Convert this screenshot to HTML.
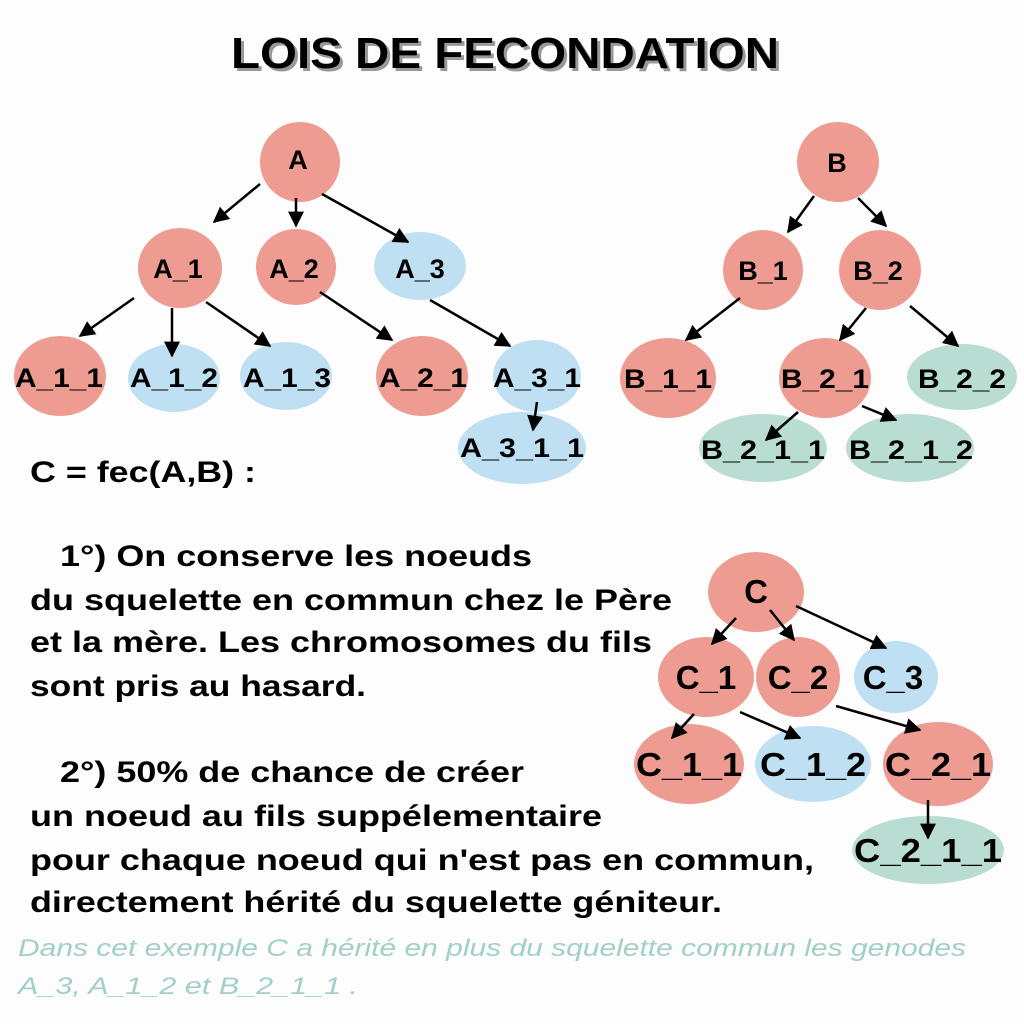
<!DOCTYPE html>
<html><head><meta charset="utf-8"><style>
html,body{margin:0;padding:0;background:#fdfdfd;}
svg{display:block}
text{font-family:"Liberation Sans",sans-serif;}
</style></head><body>
<svg width="1024" height="1024" viewBox="0 0 1024 1024" xmlns="http://www.w3.org/2000/svg">
<defs>
<marker id="ar" viewBox="0 0 10 10" refX="9" refY="5" markerWidth="16" markerHeight="16" markerUnits="userSpaceOnUse" orient="auto">
<path d="M0,0 L10,5 L0,10 z" fill="#000"/></marker>
</defs>
<rect width="1024" height="1024" fill="#fdfdfd"/>
<text x="508" y="71" font-size="44" font-weight="bold" text-anchor="middle" fill="#999" textLength="548" lengthAdjust="spacingAndGlyphs">LOIS DE FECONDATION</text>
<text x="505" y="68" font-size="44" font-weight="bold" text-anchor="middle" fill="#000" textLength="548" lengthAdjust="spacingAndGlyphs">LOIS DE FECONDATION</text>

<g>
<ellipse cx="300" cy="162" rx="40" ry="40" fill="#ee9c92"/>
<ellipse cx="180" cy="268" rx="42" ry="40" fill="#ee9c92"/>
<ellipse cx="296" cy="267" rx="40" ry="38" fill="#ee9c92"/>
<ellipse cx="420" cy="266" rx="46" ry="34" fill="#bfe0f2"/>
<ellipse cx="60" cy="376" rx="46" ry="40" fill="#ee9c92"/>
<ellipse cx="174" cy="378" rx="46" ry="34" fill="#bfe0f2"/>
<ellipse cx="286" cy="376" rx="46" ry="34" fill="#bfe0f2"/>
<ellipse cx="422" cy="376" rx="46" ry="40" fill="#ee9c92"/>
<ellipse cx="537" cy="376" rx="44" ry="36" fill="#bfe0f2"/>
<ellipse cx="522" cy="448" rx="64" ry="36" fill="#bfe0f2"/>
<ellipse cx="838" cy="162" rx="41" ry="40" fill="#ee9c92"/>
<ellipse cx="763" cy="270" rx="40" ry="40" fill="#ee9c92"/>
<ellipse cx="880" cy="270" rx="41" ry="40" fill="#ee9c92"/>
<ellipse cx="668" cy="378" rx="48" ry="40" fill="#ee9c92"/>
<ellipse cx="825" cy="378" rx="46" ry="40" fill="#ee9c92"/>
<ellipse cx="962" cy="377" rx="55" ry="33" fill="#b9ddd3"/>
<ellipse cx="763" cy="448" rx="64" ry="34" fill="#b9ddd3"/>
<ellipse cx="910" cy="448" rx="64" ry="34" fill="#b9ddd3"/>
<ellipse cx="756" cy="592" rx="48" ry="40" fill="#ee9c92"/>
<ellipse cx="706" cy="677" rx="48" ry="40" fill="#ee9c92"/>
<ellipse cx="798" cy="677" rx="42" ry="40" fill="#ee9c92"/>
<ellipse cx="896" cy="677" rx="42" ry="36" fill="#bfe0f2"/>
<ellipse cx="689" cy="764" rx="55" ry="40" fill="#ee9c92"/>
<ellipse cx="813" cy="764" rx="58" ry="38" fill="#bfe0f2"/>
<ellipse cx="938" cy="764" rx="55" ry="42" fill="#ee9c92"/>
<ellipse cx="928" cy="850" rx="76" ry="34" fill="#b9ddd3"/>
</g>

<g stroke="#000" stroke-width="2.5" marker-end="url(#ar)">
<line x1="260" y1="184" x2="214" y2="222"/>
<line x1="296" y1="198" x2="296" y2="226"/>
<line x1="322" y1="194" x2="408" y2="242"/>
<line x1="134" y1="298" x2="80" y2="336"/>
<line x1="172" y1="308" x2="172" y2="356"/>
<line x1="206" y1="302" x2="270" y2="346"/>
<line x1="320" y1="292" x2="392" y2="340"/>
<line x1="430" y1="300" x2="510" y2="346"/>
<line x1="537" y1="402" x2="533" y2="430"/>
<line x1="814" y1="196" x2="788" y2="232"/>
<line x1="858" y1="198" x2="886" y2="226"/>
<line x1="740" y1="298" x2="686" y2="340"/>
<line x1="866" y1="308" x2="840" y2="340"/>
<line x1="910" y1="306" x2="958" y2="346"/>
<line x1="798" y1="412" x2="766" y2="440"/>
<line x1="862" y1="406" x2="896" y2="420"/>
<line x1="736" y1="618" x2="712" y2="644"/>
<line x1="770" y1="610" x2="794" y2="640"/>
<line x1="796" y1="606" x2="886" y2="648"/>
<line x1="694" y1="714" x2="672" y2="738"/>
<line x1="740" y1="712" x2="800" y2="738"/>
<line x1="836" y1="706" x2="920" y2="730"/>
<line x1="928" y1="800" x2="928" y2="838"/>
</g>

<g font-size="27" font-weight="bold" text-anchor="middle" fill="#000">
<text x="298" y="169">A</text>
<text x="178" y="278">A_1</text>
<text x="294" y="278">A_2</text>
<text x="420" y="278">A_3</text>
<text x="59" y="387" textLength="88" lengthAdjust="spacingAndGlyphs">A_1_1</text>
<text x="174" y="387" textLength="88" lengthAdjust="spacingAndGlyphs">A_1_2</text>
<text x="287" y="387" textLength="88" lengthAdjust="spacingAndGlyphs">A_1_3</text>
<text x="423" y="387" textLength="88" lengthAdjust="spacingAndGlyphs">A_2_1</text>
<text x="537" y="387" textLength="88" lengthAdjust="spacingAndGlyphs">A_3_1</text>
<text x="522" y="457" textLength="124" lengthAdjust="spacingAndGlyphs">A_3_1_1</text>
<text x="837" y="172">B</text>
<text x="763" y="280">B_1</text>
<text x="878" y="280">B_2</text>
<text x="668" y="388" textLength="88" lengthAdjust="spacingAndGlyphs">B_1_1</text>
<text x="825" y="388" textLength="88" lengthAdjust="spacingAndGlyphs">B_2_1</text>
<text x="962" y="388" textLength="88" lengthAdjust="spacingAndGlyphs">B_2_2</text>
<text x="763" y="459" textLength="124" lengthAdjust="spacingAndGlyphs">B_2_1_1</text>
<text x="911" y="459" textLength="124" lengthAdjust="spacingAndGlyphs">B_2_1_2</text>
</g>
<g font-size="33" font-weight="bold" text-anchor="middle" fill="#000">
<text x="756" y="603">C</text>
<text x="706" y="689">C_1</text>
<text x="798" y="689">C_2</text>
<text x="893" y="689">C_3</text>
<text x="689" y="776" textLength="106" lengthAdjust="spacingAndGlyphs">C_1_1</text>
<text x="813" y="776" textLength="106" lengthAdjust="spacingAndGlyphs">C_1_2</text>
<text x="938" y="776" textLength="106" lengthAdjust="spacingAndGlyphs">C_2_1</text>
<text x="928" y="862" textLength="148" lengthAdjust="spacingAndGlyphs">C_2_1_1</text>
</g>

<g font-size="30" font-weight="bold" fill="#000" lengthAdjust="spacingAndGlyphs">
<text x="30" y="482" textLength="226" lengthAdjust="spacingAndGlyphs">C = fec(A,B) :</text>
<text x="60" y="566" textLength="472" lengthAdjust="spacingAndGlyphs">1°) On conserve les noeuds</text>
<text x="30" y="610" textLength="642" lengthAdjust="spacingAndGlyphs">du squelette en commun chez le Père</text>
<text x="30" y="652" textLength="622" lengthAdjust="spacingAndGlyphs">et la mère. Les chromosomes du fils</text>
<text x="30" y="696" textLength="336" lengthAdjust="spacingAndGlyphs">sont pris au hasard.</text>
<text x="60" y="782" textLength="464" lengthAdjust="spacingAndGlyphs">2°) 50% de chance de créer</text>
<text x="30" y="826" textLength="572" lengthAdjust="spacingAndGlyphs">un noeud au fils suppélementaire</text>
<text x="30" y="870" textLength="784" lengthAdjust="spacingAndGlyphs">pour chaque noeud qui n'est pas en commun,</text>
<text x="30" y="912" textLength="692" lengthAdjust="spacingAndGlyphs">directement hérité du squelette géniteur.</text>
</g>
<g font-size="24" font-style="italic" fill="#a0d0c6">
<text x="18" y="956" textLength="948" lengthAdjust="spacingAndGlyphs">Dans cet exemple C a hérité en plus du squelette commun les genodes</text>
<text x="18" y="994" textLength="340" lengthAdjust="spacingAndGlyphs">A_3, A_1_2 et B_2_1_1  .</text>
</g>
</svg>
</body></html>
